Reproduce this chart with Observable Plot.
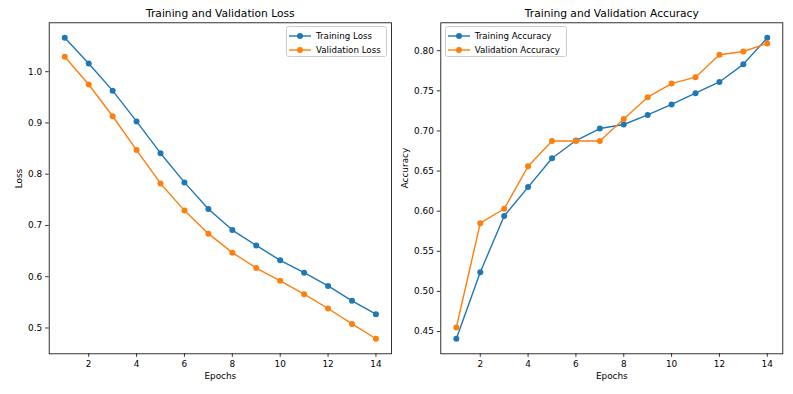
<!DOCTYPE html>
<html>
<head>
<meta charset="utf-8">
<script src="https://cdn.jsdelivr.net/npm/d3@7"></script>
<script src="https://cdn.jsdelivr.net/npm/@observablehq/plot@0.6"></script>
<style>
  html, body { margin: 0; padding: 0; background: white; }
  #wrap { position: relative; width: 793px; height: 394px; font-family: "DejaVu Sans", sans-serif; }
  .panel { position: absolute; top: 0; height: 394px; }
  .legend { position: absolute; border: 0.8px solid #cccccc; border-radius: 2.5px; background: rgba(255,255,255,0.8); box-sizing: border-box; }
  .lrow { position: absolute; left: 0; height: 12px; display: flex; align-items: center; font-size: 8.7px; color: #000; white-space: nowrap; }
  .lrow svg { display: block; margin-right: 5px; }
</style>
</head>
<body>
<div id="wrap"></div>
<script>
const epochs = [1, 2, 3, 4, 5, 6, 7, 8, 9, 10, 11, 12, 13, 14];
const trainLoss = [1.066, 1.016, 0.963, 0.903, 0.841, 0.784, 0.732, 0.691, 0.661, 0.632, 0.608, 0.582, 0.553, 0.527];
const valLoss   = [1.029, 0.975, 0.913, 0.847, 0.782, 0.729, 0.684, 0.647, 0.617, 0.592, 0.566, 0.538, 0.508, 0.479];
const trainAcc  = [0.441, 0.524, 0.594, 0.630, 0.666, 0.688, 0.703, 0.708, 0.720, 0.733, 0.747, 0.761, 0.783, 0.816];
const valAcc    = [0.455, 0.585, 0.603, 0.656, 0.6875, 0.6875, 0.6875, 0.715, 0.742, 0.759, 0.767, 0.795, 0.799, 0.809];
const xTicks = [2, 4, 6, 8, 10, 12, 14];
const lossTicks = [0.5, 0.6, 0.7, 0.8, 0.9, 1.0];
const accTicks = [0.45, 0.50, 0.55, 0.60, 0.65, 0.70, 0.75, 0.80];
const titles = ["Training and Validation Loss", "Training and Validation Accuracy"];
const yLabels = ["Loss", "Accuracy"];
const xLabel = "Epochs";
const lossNames = ["Training Loss", "Validation Loss"];
const accNames = ["Training Accuracy", "Validation Accuracy"];
const colors = ["#1f77b4", "#ff7f0e"];

function pad(vals, f) {
  const lo = d3.min(vals), hi = d3.max(vals), r = hi - lo;
  return [lo - r * f, hi + r * f];
}

function panel(opts) {
  const {width, margins, series, names, yTicks, yFmt, title, yLabel, yLabelDx} = opts;
  const data = series.map((s, i) => s.map((v, j) => ({epoch: epochs[j], value: v, name: names[i]})));
  const marks = [];
  data.forEach((d, i) => {
    marks.push(Plot.line(d, {x: "epoch", y: "value", stroke: colors[i], strokeWidth: 1.4}));
    marks.push(Plot.dot(d, {x: "epoch", y: "value", fill: colors[i], r: 3, stroke: "none"}));
  });
  marks.push(Plot.frame({stroke: "#000", strokeWidth: 0.8}));
  marks.push(Plot.axisX({ticks: xTicks, tickSize: 3.5, tickPadding: 3, label: null, tickFormat: d => String(d), strokeWidth: 0.8}));
  marks.push(Plot.axisY({ticks: yTicks, tickSize: 3.5, tickPadding: 3.5, label: null, tickFormat: yFmt, strokeWidth: 0.8}));
  marks.push(Plot.text([title], {frameAnchor: "top", dy: -9, lineAnchor: "middle", fontSize: 10.7, fill: "#000"}));
  marks.push(Plot.text([xLabel], {frameAnchor: "bottom", dy: 22.4, lineAnchor: "middle", fontSize: 8.9, fill: "#000"}));
  marks.push(Plot.text([yLabel], {frameAnchor: "left", dx: yLabelDx, rotate: -90, lineAnchor: "middle", fontSize: 8.9, fill: "#000"}));
  const allVals = series.flat();
  return Plot.plot({
    width, height: 394,
    marginLeft: margins[0], marginRight: margins[1], marginTop: margins[2], marginBottom: margins[3],
    x: {domain: pad(epochs, 0.05), axis: null},
    y: {domain: pad(allVals, 0.05), axis: null},
    style: {fontFamily: "DejaVu Sans", fontSize: "8.9px", background: "white", color: "#000", overflow: "visible"},
    marks
  });
}

function legend(container, names, box) {
  const lg = document.createElement("div");
  lg.className = "legend";
  lg.style.left = box.left + "px";
  lg.style.top = box.top + "px";
  lg.style.width = box.width + "px";
  lg.style.height = box.height + "px";
  names.forEach((n, i) => {
    const row = document.createElement("div");
    row.className = "lrow";
    row.style.top = (box.rows[i] - 6) + "px";
    row.style.left = "2px";
    row.innerHTML = `<svg width="22" height="12"><line x1="0" x2="22" y1="6" y2="6" stroke="${colors[i]}" stroke-width="1.4"/><circle cx="11" cy="6" r="3" fill="${colors[i]}"/></svg><span>${n}</span>`;
    lg.appendChild(row);
  });
  container.appendChild(lg);
}

const wrap = document.getElementById("wrap");

const p1 = document.createElement("div");
p1.className = "panel"; p1.style.left = "0px"; p1.style.width = "396px";
p1.appendChild(panel({
  width: 396, margins: [48.7, 5, 22.3, 40.7],
  series: [trainLoss, valLoss], names: lossNames, yTicks: lossTicks,
  yFmt: d3.format(".1f"), title: titles[0], yLabel: yLabels[0], yLabelDx: -29.7
}));
legend(p1, lossNames, {left: 286, top: 26, width: 101.3, height: 31.3, rows: [9, 22.7]});
wrap.appendChild(p1);

const p2 = document.createElement("div");
p2.className = "panel"; p2.style.left = "396px"; p2.style.width = "397px";
p2.appendChild(panel({
  width: 397, margins: [44.3, 10.7, 22.3, 40.7],
  series: [trainAcc, valAcc], names: accNames, yTicks: accTicks,
  yFmt: d3.format(".2f"), title: titles[1], yLabel: yLabels[1], yLabelDx: -35.6
}));
legend(p2, accNames, {left: 48.7, top: 26, width: 122.6, height: 31.3, rows: [9, 22.7]});
wrap.appendChild(p2);
</script>
</body>
</html>
